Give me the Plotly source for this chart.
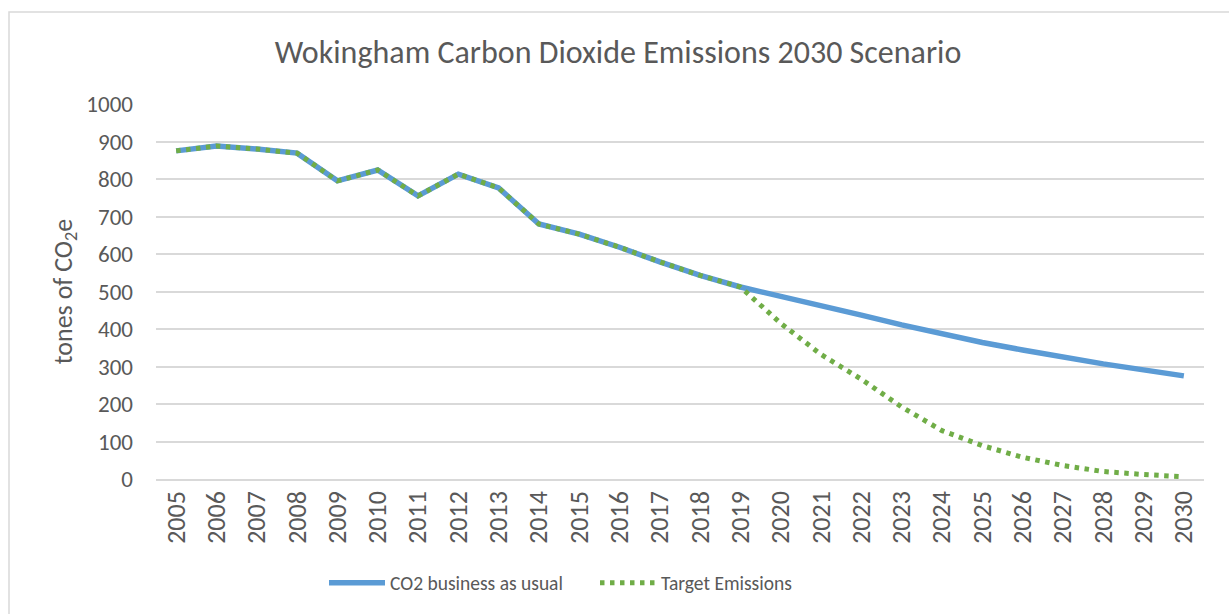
import plotly.graph_objects as go

years = list(range(2005, 2031))
bau = [875, 888, 880, 869, 795, 824, 755, 813, 776, 680, 653, 618, 579, 543, 512,
       488, 462, 437, 411, 386, 364, 344, 325, 307, 291, 275]
target = [875, 888, 880, 869, 795, 824, 755, 813, 776, 680, 653, 618, 579, 543, 512,
          415, 332, 266, 192, 129, 89, 58, 36, 20, 12, 6]

FONT = "Calibri, Carlito, Lato, sans-serif"
TXT = "#595959"

fig = go.Figure()
fig.add_trace(go.Scatter(x=years, y=bau, mode="lines", name="CO2 business as usual",
                         line=dict(color="#5B9BD5", width=5.5)))
fig.add_trace(go.Scatter(x=years, y=target, mode="lines", name="Target Emissions",
                         line=dict(color="#70AD47", width=5, dash="4.5px,5.5px")))

fig.update_layout(
    width=1229, height=614,
    paper_bgcolor="white", plot_bgcolor="white",
    margin=dict(l=156, r=25, t=104, b=135),
    font=dict(family=FONT, color=TXT, size=20),
    title=dict(text="Wokingham Carbon Dioxide Emissions 2030 Scenario",
               x=(618 - 156) / 1048, xanchor="center",
               xref="paper", y=1 - 52 / 614, yanchor="middle",
               font=dict(size=32, color=TXT, family=FONT)),
    xaxis=dict(range=[2004.5, 2030.5], tickmode="array", tickvals=years,
               ticktext=[str(y) for y in years], tickangle=-90,
               showgrid=False, showline=True, linecolor="#D9D9D9", linewidth=1.5,
               ticks="", tickfont=dict(size=26, color=TXT), zeroline=False),
    yaxis=dict(range=[0, 1000], dtick=100, showgrid=True, gridcolor="#D9D9D9",
               gridwidth=1.5, zeroline=False, showline=False, ticks="",
               tickfont=dict(size=23, color=TXT), ticklabelstandoff=22,
               title=dict(text="tones of CO<sub>2</sub>e", font=dict(size=26, color=TXT),
                          standoff=6)),
    legend=dict(orientation="h", x=(329 - 5 - 156) / 1048, xanchor="left",
                y=(479 - 583) / 375, yanchor="middle",
                font=dict(size=19.5, color=TXT), itemwidth=56,
                entrywidth=200, entrywidthmode="pixels",
                bgcolor="rgba(0,0,0,0)"),
    showlegend=True,
)

fig.add_shape(type="rect", xref="paper", yref="paper",
              x0=(9 - 156) / 1048, x1=(1240 - 156) / 1048,
              y0=(479 - 630) / 375, y1=(479 - 12) / 375,
              line=dict(color="#D9D9D9", width=1.5), layer="below")

fig.write_html("out.html", config={"displayModeBar": False},
               post_script="document.body.style.margin='0';document.body.style.overflow='hidden';")
